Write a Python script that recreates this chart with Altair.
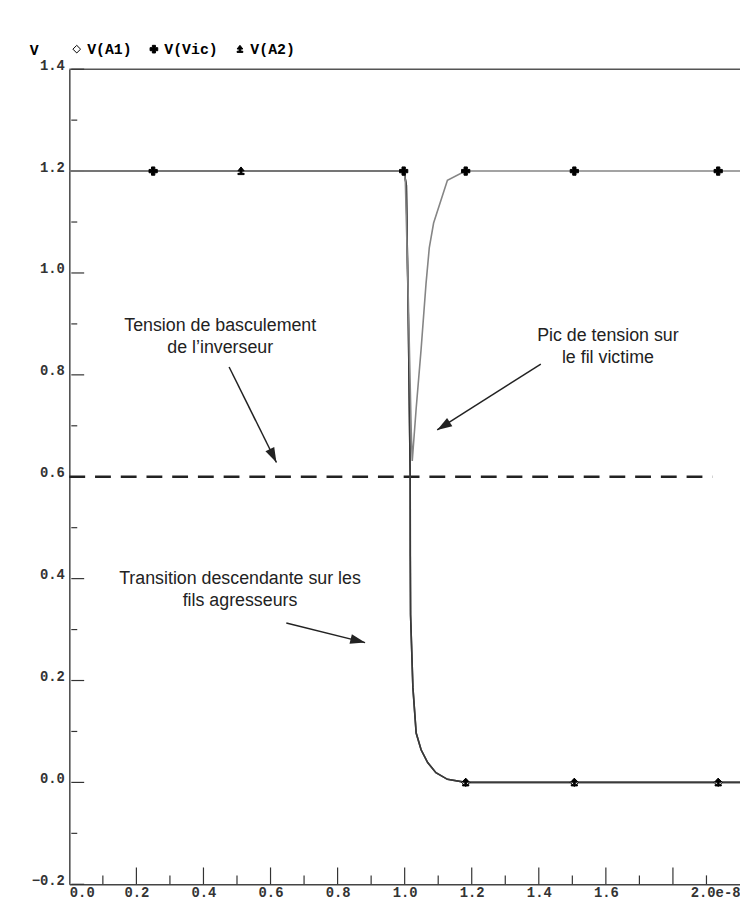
import math
import altair as alt
import pandas as pd

# ---------------- data (time in units of 1e-8 s, voltage in V) ----------------
t_vic = [0.0, 0.998, 1.002, 1.0098, 1.0196, 1.0226, 1.0343, 1.049, 1.0637, 1.0735, 1.0863, 1.1275, 1.181, 2.0]
v_vic = [1.2, 1.2, 1.18, 0.979, 0.689, 0.631, 0.734, 0.850, 0.979, 1.050, 1.098, 1.182, 1.2, 1.2]

t_agr = [0.0, 0.998, 1.005, 1.0108, 1.0165, 1.0168, 1.0176, 1.0245, 1.0343, 1.049, 1.0686, 1.0932, 1.1275, 1.1815, 2.0]
v_a1 = [1.2, 1.2, 1.172, 0.915, 0.599, 0.444, 0.329, 0.187, 0.097, 0.064, 0.039, 0.019, 0.006, 0.0, 0.0]
v_a2 = [1.2, 1.2, 1.172, 0.915, 0.599, 0.444, 0.329, 0.187, 0.097, 0.064, 0.039, 0.019, 0.006, 0.0, 0.0]

mk_a1_t = [1.182, 1.506, 1.935]
mk_a1_v = [0.0, 0.0, 0.0]
mk_a2_t = [0.512, 1.182, 1.506, 1.935]
mk_a2_v = [1.2, 0.0, 0.0, 0.0]
mk_vic_t = [0.25, 0.997, 1.182, 1.506, 1.935]
mk_vic_v = [1.2, 1.2, 1.2, 1.2, 1.2]

series_names = ["V(A1)", "V(Vic)", "V(A2)"]

threshold_v = [0.6]
threshold_t0 = [0.0]
threshold_t1 = [1.918]

y_label_vals = [-0.2, 0.0, 0.2, 0.4, 0.6, 0.8, 1.0, 1.2, 1.4]
y_major_ticks = [-0.2, 0.0, 0.2, 0.4, 0.6, 0.8, 1.0, 1.2, 1.4]
y_minor_ticks = [-0.1, 0.1, 0.3, 0.5, 0.7, 0.9, 1.1, 1.3]
x_label_vals = [0.0, 0.2, 0.4, 0.6, 0.8, 1.0, 1.2, 1.4, 1.6, 1.8, 2.0]
x_major_ticks = [0.2, 0.4, 0.6, 0.8, 1.0, 1.2, 1.4, 1.6, 1.8]
x_minor_ticks = [0.1, 0.3, 0.5, 0.7, 0.9, 1.1, 1.3, 1.5, 1.7, 1.9]

ann_text = ["Tension de basculement", "de l\u2019inverseur",
            "Pic de tension sur", "le fil victime",
            "Transition descendante sur les", "fils agresseurs"]
ann_t = [0.45, 0.45, 1.606, 1.606, 0.509, 0.509]
ann_v = [0.895, 0.852, 0.877, 0.832, 0.400, 0.3556]

arr_t0 = [0.4765, 1.406, 0.647]
arr_v0 = [0.8155, 0.8213, 0.313]
arr_t1 = [0.6176, 1.097, 0.882]
arr_v1 = [0.628, 0.6918, 0.2744]

# ---------------- layout / style ----------------
W, H = 678, 824
X_DOM = [0.0, 2.0]
Y_DOM = [-0.2, 1.4]
KX = W / (X_DOM[1] - X_DOM[0])
KY = H / (Y_DOM[1] - Y_DOM[0])
MONO = "Liberation Mono"
SANS = "Liberation Sans"

# custom symbol: up-arrow with base for A2
ARROW_SYM = ("M0,-1L0.75,-0.05L0.22,-0.05L0.22,0.55L0.75,0.55L0.75,0.85L-0.75,0.85L-0.75,0.55"
             "L-0.22,0.55L-0.22,-0.05L-0.75,-0.05Z")

xs = alt.Scale(domain=X_DOM, nice=False, zero=False)
ys = alt.Scale(domain=Y_DOM, nice=False, zero=False)

x_axis = alt.Axis(
    values=x_label_vals,
    labelExpr="datum.value > 1.99 ? '2.0e-8' : (abs(datum.value - 1.8) < 0.01 ? '' : format(datum.value, '.1f'))",
    ticks=False, grid=False, domain=True, domainColor="#444", domainWidth=1.5,
    labelFont=MONO, labelFontWeight="bold", labelFontSize=14, labelColor="#333",
    labelPadding=1, labelFlush=True, labelOverlap=False, labelBaseline="top", title=None,
)
y_axis = alt.Axis(
    values=y_label_vals, format=".1f",
    ticks=False, grid=False, domain=True, domainColor="#444", domainWidth=1.5,
    labelFont=MONO, labelFontWeight="bold", labelFontSize=14, labelColor="#333",
    labelPadding=5, labelBaseline="alphabetic", labelOverlap=False,
    title="V", titleAngle=0, titleX=-36, titleY=-20, titleAlign="center",
    titleBaseline="middle", titleFont=MONO, titleFontSize=15, titleFontWeight="bold",
    titleColor="black",
)

# ---------------- frames ----------------
df_top = pd.DataFrame({"t": [X_DOM[0]], "t2": [X_DOM[1]], "v": [Y_DOM[1]]})
top_rule = alt.Chart(df_top).mark_rule(color="#555", strokeWidth=1.5).encode(
    x=alt.X("t:Q", scale=xs, axis=x_axis),
    x2="t2:Q",
    y=alt.Y("v:Q", scale=ys, axis=y_axis),
)

ytk_major = alt.Chart(pd.DataFrame({"v": y_major_ticks})).mark_rule(color="#333", strokeWidth=1.2).encode(
    y="v:Q", x=alt.value(2), x2=alt.value(15))
ytk_minor = alt.Chart(pd.DataFrame({"v": y_minor_ticks})).mark_rule(color="#333", strokeWidth=1.2).encode(
    y="v:Q", x=alt.value(2), x2=alt.value(8))
xtk_major = alt.Chart(pd.DataFrame({"t": x_major_ticks})).mark_rule(color="#333", strokeWidth=1.2).encode(
    x="t:Q", y=alt.value(H), y2=alt.value(H - 17))
xtk_minor = alt.Chart(pd.DataFrame({"t": x_minor_ticks})).mark_rule(color="#333", strokeWidth=1.2).encode(
    x="t:Q", y=alt.value(H), y2=alt.value(H - 9))

df_thr = pd.DataFrame({"t": threshold_t0, "t2": threshold_t1, "v": threshold_v})
thr = alt.Chart(df_thr).mark_rule(color="#222", strokeWidth=2.5, strokeDash=[16, 10]).encode(
    x="t:Q", x2="t2:Q", y="v:Q")

# ---------------- curves ----------------
rows = []
for i, (t, v) in enumerate(zip(t_agr, v_a1)):
    rows.append({"t": t, "v": v, "s": "V(A1)", "o": i})
for i, (t, v) in enumerate(zip(t_agr, v_a2)):
    rows.append({"t": t, "v": v, "s": "V(A2)", "o": i})
df_agr = pd.DataFrame(rows)
agr = alt.Chart(df_agr).mark_line(color="#3a3a3a", strokeWidth=1.6).encode(
    x="t:Q", y="v:Q", detail="s:N", order="o:Q")

df_vic = pd.DataFrame({"t": t_vic, "v": v_vic, "o": list(range(len(t_vic)))})
vic = alt.Chart(df_vic).mark_line(color="#858585", strokeWidth=1.6).encode(
    x="t:Q", y="v:Q", order="o:Q")

# ---------------- markers + legend ----------------
mrows = []
for t, v in zip(mk_a1_t, mk_a1_v):
    mrows.append({"t": t, "v": v, "s": "V(A1)"})
for t, v in zip(mk_a2_t, mk_a2_v):
    mrows.append({"t": t, "v": v, "s": "V(A2)"})
for t, v in zip(mk_vic_t, mk_vic_v):
    mrows.append({"t": t, "v": v, "s": "V(Vic)"})
df_mk = pd.DataFrame(mrows)

leg = alt.Legend(
    orient="none", legendX=0, legendY=-28, direction="horizontal", title=None,
    labelFont=MONO, labelFontWeight="bold", labelFontSize=15, labelColor="black",
    labelOffset=3, columnPadding=14, symbolSize=60, symbolStrokeWidth=1, padding=0,
)
markers = alt.Chart(df_mk).mark_point(filled=True, size=70, strokeWidth=1, opacity=1).encode(
    x="t:Q", y="v:Q",
    shape=alt.Shape("s:N", scale=alt.Scale(domain=series_names, range=["diamond", "cross", ARROW_SYM]), legend=leg),
    fill=alt.Fill("s:N", scale=alt.Scale(domain=series_names, range=["white", "black", "black"]), legend=leg),
    stroke=alt.Stroke("s:N", scale=alt.Scale(domain=series_names, range=["black", "black", "black"]), legend=leg),
)

# ---------------- annotations ----------------
df_ann = pd.DataFrame({"t": ann_t, "v": ann_v, "txt": ann_text})
ann = alt.Chart(df_ann).mark_text(font=SANS, fontSize=18, color="#222", align="center", baseline="middle").encode(
    x="t:Q", y="v:Q", text="txt:N")

angles = []
for a0, b0, a1, b1 in zip(arr_t0, arr_v0, arr_t1, arr_v1):
    ang = math.degrees(math.atan2((a1 - a0) * KX, (b1 - b0) * KY)) % 360
    angles.append(ang)
df_arr = pd.DataFrame({"t0": arr_t0, "v0": arr_v0, "t1": arr_t1, "v1": arr_v1, "ang": angles})
arr_lines = alt.Chart(df_arr).mark_rule(color="#222", strokeWidth=1.5).encode(
    x="t0:Q", y="v0:Q", x2="t1:Q", y2="v1:Q")
arr_heads = alt.Chart(df_arr).mark_point(
    shape="M0,0L-0.33,1L0.33,1Z", filled=True, color="#222", size=900, opacity=1
).encode(x="t1:Q", y="v1:Q", angle=alt.Angle("ang:Q", scale=None))

chart = alt.layer(
    top_rule, ytk_major, ytk_minor, xtk_major, xtk_minor, thr,
    agr, vic, markers, ann, arr_lines, arr_heads,
).properties(
    width=W, height=H,
    padding={"left": 62, "top": 57, "right": 0, "bottom": 9},
    autosize=alt.AutoSizeParams(type="none"),
    background="white",
).configure_view(stroke=None)

chart.save("out.html", embed_options={"renderer": "svg", "actions": False})
